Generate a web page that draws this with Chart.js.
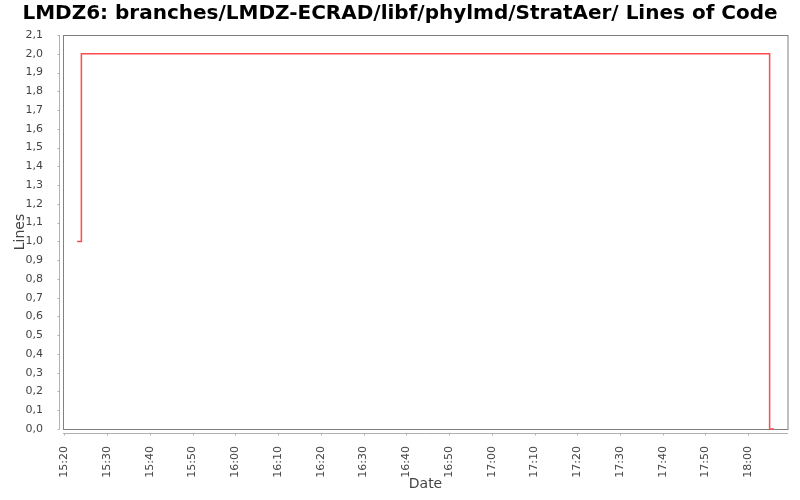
<!DOCTYPE html>
<html><head><meta charset="utf-8">
<script src="https://cdn.jsdelivr.net/npm/chart.js@4/dist/chart.umd.min.js"></script>
<style>html,body{margin:0;padding:0;background:#fff}#wrap{width:800px;height:500px}</style>
</head><body><div id="wrap"><canvas id="c" width="800" height="500"></canvas></div>
<script>
// Data (minutes since midnight)
const times = [923, 924, 1085, 1086];
const lines = [1, 2, 0, 0];
const xTickStep = 10;
const yTickStep = 0.1;
const titleText = 'LMDZ6: branches/LMDZ-ECRAD/libf/phylmd/StratAer/ Lines of Code';
const xTitle = 'Date';
const yTitle = 'Lines';

const FONT = '"DejaVu Sans", sans-serif';

function fmtTime(v){
  const m = Math.round(v);
  const h = Math.floor(m/60), mm = m%60;
  return h + ':' + (mm<10?'0':'') + mm;
}

const decor = {
  id:'decor',
  beforeDraw(chart){
    const ctx = chart.ctx;
    ctx.save();
    ctx.fillStyle='#fff';
    ctx.fillRect(0,0,chart.width,chart.height);
    ctx.restore();
  },
  beforeDatasetsDraw(chart){
    const ctx = chart.ctx, a = chart.chartArea;
    const xs = chart.scales.x, ys = chart.scales.y;
    ctx.save();
    // plot border
    ctx.strokeStyle='#808080'; ctx.lineWidth=1;
    ctx.strokeRect(Math.round(a.left)+0.5, Math.round(a.top)+0.5, Math.round(a.right-a.left)-0.5, Math.round(a.bottom-a.top));
    // y axis line + ticks
    ctx.strokeStyle='#b0b0b0';
    const ax = Math.round(a.left)-3.5;
    ctx.beginPath(); ctx.moveTo(ax, a.top); ctx.lineTo(ax, a.bottom); ctx.stroke();
    ys.ticks.forEach(t=>{const y=Math.round(ys.getPixelForValue(t.value))+0.5; ctx.beginPath(); ctx.moveTo(ax-2,y); ctx.lineTo(ax,y); ctx.stroke();});
    // x axis line + ticks
    const ay = Math.round(a.bottom)+4.5;
    ctx.beginPath(); ctx.moveTo(a.left, ay); ctx.lineTo(a.right, ay); ctx.stroke();
    xs.ticks.forEach(t=>{const x=Math.round(xs.getPixelForValue(t.value))+0.5; ctx.beginPath(); ctx.moveTo(x,ay); ctx.lineTo(x,ay+2); ctx.stroke();});
    ctx.restore();
  },
  afterDraw(chart){
    const ctx = chart.ctx, a = chart.chartArea;
    ctx.save();
    // title
    ctx.fillStyle='#000'; ctx.font='bold 20px '+FONT; ctx.textAlign='center'; ctx.textBaseline='middle';
    ctx.fillText(titleText, 400, 14);
    // axis titles
    ctx.fillStyle='#444'; ctx.font='14px '+FONT;
    ctx.fillText(xTitle, (a.left+a.right)/2, 484);
    ctx.translate(20,(a.top+a.bottom)/2); ctx.rotate(-Math.PI/2);
    ctx.fillText(yTitle, 0, 0);
    ctx.restore();
  }
};

new Chart(document.getElementById('c'), {
  type:'line',
  data:{ datasets:[{ data: times.map((t,i)=>({x:t,y:lines[i]})), borderColor:'#ff4a4a', borderWidth:1.5, pointRadius:0, stepped:true, fill:false, clip:3 }]},
  options:{
    responsive:false, animation:false, devicePixelRatio:1,
    layout:{padding:{top:35,right:12,left:0,bottom:0}},
    plugins:{legend:{display:false},title:{display:false},tooltip:{enabled:false}},
    scales:{
      x:{ type:'linear', min:919.7, max:1089.3,
        grid:{display:false}, border:{display:false},
        afterFit(s){ s.height = 71; },
        ticks:{ stepSize:xTickStep, includeBounds:false, autoSkip:false, minRotation:90, maxRotation:90, padding:9,
          color:'#444', font:{family:FONT,size:11}, callback:(v)=>fmtTime(v) } },
      y:{ type:'linear', min:0, max:2.1,
        grid:{display:false}, border:{display:false},
        afterFit(s){ s.width = 63; },
        ticks:{ stepSize:yTickStep, autoSkip:false, padding:12, color:'#444', font:{family:FONT,size:11},
          callback:(v)=>Number(v).toFixed(1).replace('.',',') } }
    }
  },
  plugins:[decor]
});
</script></body></html>
